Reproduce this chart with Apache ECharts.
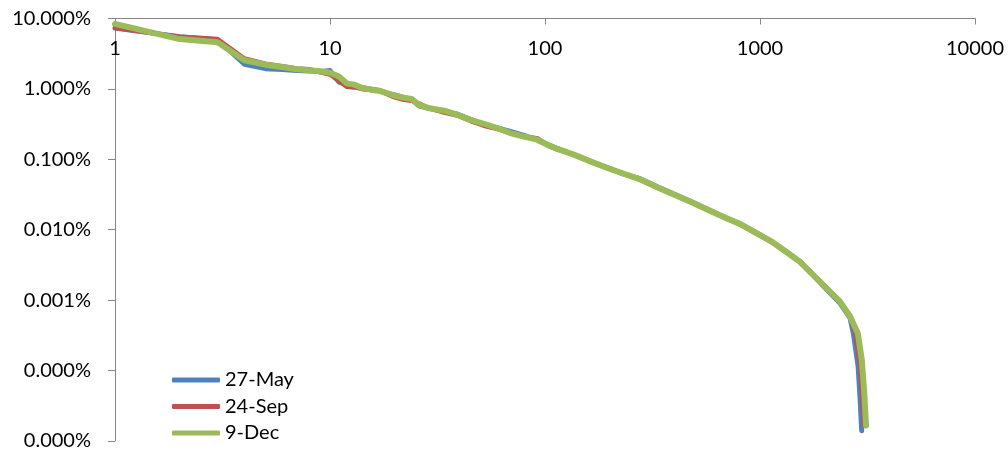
<!DOCTYPE html>
<html>
<head>
<meta charset="utf-8">
<script src="https://cdn.jsdelivr.net/npm/echarts@6/dist/echarts.min.js"></script>
<style>
html,body{margin:0;padding:0;background:#fff;}
#chart{width:1008px;height:451px;}
</style>
</head>
<body>
<div id="chart"></div>
<script>
// Shared ranks for the body of the curves
const ranks = [1,2,3,4,5,6,7,8,9,10,11,12,13,14,15,16,17,18,20,22,24,26,29,34,39,45,52,60,69,79,92,104,113,136,162,194,231,277,331,395,472,565,675,807,1000,1150,1331,1535,1771,2043,2356,2622];

// Share values (fractions) per series
const mayValues = [0.073,0.055,0.050,0.0224,0.0194,0.0188,0.0182,0.0180,0.0176,0.0182,0.0125,0.0115,0.0112,0.0105,0.0101,0.0098,0.0095,0.0088,0.0082,0.0076,0.0071,0.0057,0.0053,0.0048,0.0044,0.0037,0.0031,0.0028,0.0025,0.0022,0.0019,0.0016,0.00144,0.00116,0.00093,0.00077,0.00062,0.00053,0.00041,0.000325,0.000255,0.000198,0.000152,0.000122,0.000085,0.000066,0.0000485,0.0000355,0.0000225,0.0000142,0.0000090,0.0000056];
const sepValues = [0.073,0.055,0.051,0.0270,0.0228,0.0210,0.0195,0.0190,0.0172,0.0160,0.0130,0.0107,0.0105,0.0100,0.0097,0.0095,0.0093,0.0087,0.0076,0.0070,0.0068,0.0062,0.0053,0.0046,0.0042,0.0035,0.0030,0.0027,0.00235,0.0021,0.0020,0.00155,0.00140,0.00118,0.00095,0.00075,0.00063,0.00051,0.000400,0.000318,0.000250,0.000194,0.000151,0.000119,0.000083,0.000065,0.0000475,0.0000350,0.0000228,0.0000148,0.0000096,0.0000059];
const decValues = [0.0837,0.051,0.046,0.0255,0.0221,0.0205,0.0190,0.0184,0.0178,0.0170,0.0150,0.0119,0.0115,0.0104,0.0100,0.0096,0.0094,0.0089,0.0080,0.0075,0.0072,0.0059,0.0053,0.0049,0.0043,0.00364,0.0032,0.00278,0.00236,0.00212,0.0019,0.00158,0.00142,0.00117,0.00094,0.00076,0.00063,0.00052,0.000406,0.00032,0.000252,0.000196,0.000153,0.000121,0.000084,0.000066,0.000048,0.000035,0.0000226,0.0000147,0.0000095,0.0000059];

// Tails (steep drop at the end)
const mayTailRanks = [2716,2859,2920,2971];
const mayTailValues = [0.0000034,0.00000116,0.00000040,0.00000014];
const sepTailRanks = [2780,2910,2990,3047];
const sepTailValues = [0.0000034,0.0000013,0.00000045,0.000000166];
const decTailRanks = [2850,2972,3047,3112];
const decTailValues = [0.0000034,0.00000145,0.00000055,0.000000166];

const seriesNames = ['27-May','24-Sep','9-Dec'];
const seriesColors = ['#4F81BD','#C0504D','#9BBB59'];

function build(vals, tr, tv){
  const d = ranks.map((r,i)=>[r, vals[i]]);
  tr.forEach((r,i)=>d.push([r, tv[i]]));
  return d;
}
const datasets = [
  build(mayValues, mayTailRanks, mayTailValues),
  build(sepValues, sepTailRanks, sepTailValues),
  build(decValues, decTailRanks, decTailValues)
];
const widths = [5,4.5,6];

const font = 'Lato';
const chart = echarts.init(document.getElementById('chart'), null, {renderer:'canvas'});
chart.setOption({
  animation:false,
  backgroundColor:'#fff',
  grid:{left:115,right:33,top:18.5,bottom:6.5},
  legend:{
    orient:'vertical',
    left:172, top:370, height:80,
    icon:'roundRect',
    itemWidth:48, itemHeight:5, itemGap:6.5,
    padding:0,
    textStyle:{fontFamily:font,fontSize:20,lineHeight:20,color:'#000'},
    data:seriesNames
  },
  xAxis:{
    type:'log', logBase:10, min:1, max:10000,
    position:'top',
    axisLine:{show:true,lineStyle:{color:'#868686',width:1}},
    axisTick:{show:true,inside:true,length:6,lineStyle:{color:'#868686'}},
    axisLabel:{inside:true,margin:20,fontFamily:font,fontSize:20,color:'#000',
      formatter:v=>String(Math.round(v))},
    splitLine:{show:false},
    minorTick:{show:false}
  },
  yAxis:{
    type:'log', logBase:10, min:1e-7, max:0.1,
    axisLine:{show:true,lineStyle:{color:'#868686',width:1}},
    axisTick:{show:true,inside:false,length:7,lineStyle:{color:'#868686'}},
    axisLabel:{margin:24,fontFamily:font,fontSize:20,color:'#000',
      formatter:v=>(v*100).toFixed(3)+'%'},
    splitLine:{show:false}
  },
  series: seriesNames.map((n,i)=>({
    name:n, type:'line', data:datasets[i],
    showSymbol:false, symbol:'none', smooth:false,
    lineStyle:{color:seriesColors[i],width:widths[i],cap:'round',join:'round'},
    itemStyle:{color:seriesColors[i]},
    z:2+i
  }))
});
</script>
</body>
</html>
